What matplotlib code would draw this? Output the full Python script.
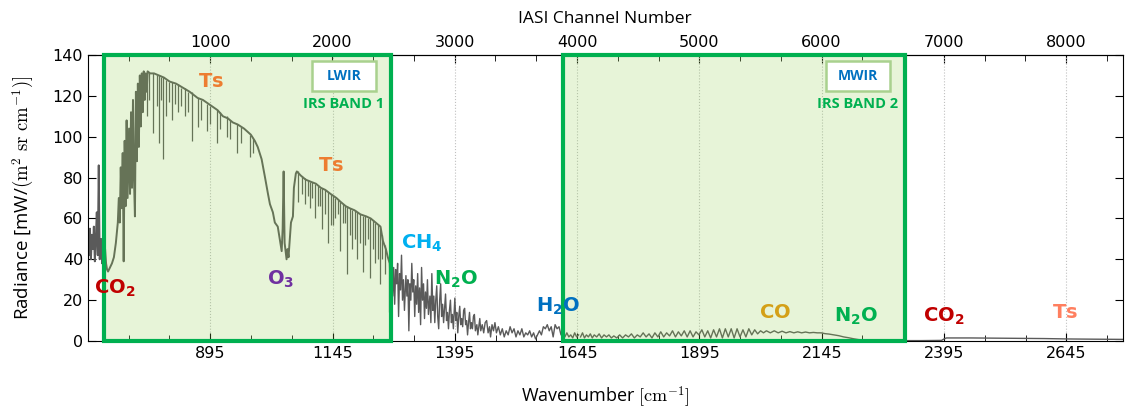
import numpy as np
import matplotlib
matplotlib.use("Agg")
import matplotlib.pyplot as plt
from matplotlib.patches import Rectangle
from matplotlib.ticker import FixedLocator, AutoMinorLocator

# spectrum (wavenumber [cm-1], radiance)
# long-wave part: noisy start, CO2 band, window continuum, O3 band
lw_wn = [645, 647, 649, 651, 653, 655, 657, 659, 661, 663, 665, 667, 669, 672, 674, 676, 678, 680,
         682, 684, 686, 690, 694, 698, 702, 704, 706, 708, 710, 712, 714, 716, 718, 720, 722, 724,
         726, 729, 731, 733, 735, 737, 739, 741, 743, 745, 747, 749, 751, 753, 755, 757, 759, 761,
         763, 765, 767, 772, 780, 790, 800, 812, 825, 839, 853, 869, 880, 898, 910, 921, 931, 941,
         951, 964, 978, 986, 992, 1000, 1007, 1013, 1017, 1023, 1027, 1033, 1037, 1041, 1043, 1045,
         1047, 1051, 1053, 1055, 1060, 1064, 1066, 1070, 1072, 1080, 1090, 1100, 1111, 1121, 1130,
         1141, 1153, 1162, 1172, 1180, 1190, 1202, 1214, 1223, 1233, 1243, 1248, 1254, 1258, 1262,
         1264, 1266]
lw_rad = [50, 42, 55, 40, 52, 45, 56, 39, 50, 63, 42, 86, 40, 50, 38, 47, 44, 45,
          38, 35, 34, 36, 38, 41, 48, 53, 58, 70, 58, 85, 65, 92, 39, 98, 66, 108,
          70, 104, 72, 112, 75, 118, 80, 61, 122, 88, 126, 95, 130, 105, 131, 112, 132, 118,
          131, 122, 132, 131, 131, 130, 129, 127, 126, 124, 122, 119, 118, 115, 113, 110, 109, 107,
          106, 104, 101, 98, 95, 89, 80, 72, 67, 63, 58, 56, 50, 44, 55, 83,
          48, 40, 45, 41, 58, 61, 75, 82, 83, 81, 79, 78, 77, 75, 74,
          72, 70, 68, 66, 65, 64, 62, 61, 60, 58, 56, 49, 45, 41, 38,
          25, 40]

# narrow absorption lines in the window: position, continuum top, line bottom
line_wn = [765, 770, 778, 786, 790, 795, 798, 804, 810, 817, 822, 829, 835, 843, 850, 857, 869,
           876, 888, 895, 908, 915, 929, 936, 949, 957, 976, 983,
           1074, 1082, 1088, 1094, 1098, 1104, 1109, 1116, 1119, 1123, 1130, 1135, 1141, 1145,
           1150, 1156, 1160, 1167, 1170, 1174, 1180, 1184, 1190, 1196, 1202, 1207, 1212, 1217,
           1221, 1227, 1231, 1237, 1241, 1246, 1252, 1260]
line_top = [132, 131, 131, 130, 130, 129, 129, 128, 127, 127, 126, 126, 124, 124, 122, 122, 119,
            118, 116, 115, 113, 112, 110, 108, 106, 105, 101, 99,
            83, 81, 80, 79, 78, 78, 77, 76, 75, 75, 74, 73, 72, 71,
            70, 69, 68, 67, 66, 66, 65, 64, 64, 63, 62, 61, 61, 60,
            60, 59, 58, 57, 56, 52, 47, 40]
line_bot = [110, 118, 102, 115, 97, 118, 89, 110, 117, 108, 116, 112, 115, 110, 112, 98, 105,
            108, 103, 106, 97, 104, 100, 99, 92, 97, 90, 92,
            68, 72, 67, 71, 65, 70, 60, 66, 66, 55, 62, 48, 57, 57,
            60, 62, 44, 58, 58, 33, 52, 45, 50, 40, 48, 34, 47, 50,
            31, 45, 38, 40, 28, 40, 33, 14]

# water vapour band
h2o_wn = [1266, 1268, 1270, 1272, 1274, 1276, 1278, 1280, 1282, 1284, 1286, 1288, 1290, 1292, 1295,
          1297, 1299, 1301, 1303, 1305, 1307, 1309, 1311, 1313, 1315, 1317, 1319, 1321, 1323, 1325,
          1327, 1329, 1331, 1333, 1335, 1337, 1339, 1341, 1344, 1346, 1348, 1350, 1352, 1354, 1356,
          1358, 1360, 1362, 1364, 1366, 1368, 1370, 1372, 1374, 1376, 1378, 1380, 1382, 1384, 1386,
          1388, 1390, 1392, 1395, 1397, 1399, 1401, 1403, 1405, 1407, 1409, 1411, 1413, 1415, 1417,
          1419, 1421, 1423, 1425, 1427, 1429, 1431, 1433, 1435, 1437, 1440, 1442, 1444, 1446, 1448,
          1451, 1454, 1457, 1460, 1463, 1466, 1468, 1471, 1474, 1477, 1480, 1484, 1488, 1492, 1496,
          1500, 1504, 1508, 1512, 1516, 1520, 1524, 1528, 1532, 1536, 1540, 1544, 1548, 1552, 1556,
          1560, 1564, 1568, 1572, 1576, 1580, 1584, 1588, 1592, 1596, 1600, 1604, 1608, 1612, 1616,
          1620, 1624, 1628, 1632, 1636, 1640, 1644, 1648]
h2o_rad = [40, 22, 36, 18, 35, 28, 38, 12, 33, 25, 42, 20, 30, 15, 32,
           22, 30, 5, 28, 20, 38, 24, 30, 12, 27, 18, 33, 14, 26, 8,
           36, 20, 28, 11, 24, 16, 30, 13, 22, 9, 33, 15, 22, 9, 20,
           27, 12, 6, 20, 28, 12, 18, 9, 16, 23, 10, 14, 6, 15, 20,
           9, 13, 6, 21, 10, 14, 4, 12, 17, 8, 11, 7, 15, 16, 8,
           10, 3, 9, 14, 6, 9, 6, 12, 13, 5, 8, 3, 7, 11, 5,
           8, 4, 9, 10, 4, 7, 2, 8, 5, 9, 4, 7, 3, 6, 2,
           5, 3, 7, 4, 6, 2, 5, 3, 6, 2, 4, 3, 5, 2, 4,
           1, 3, 5, 3, 7, 6, 8, 5, 7, 2, 8, 6, 7, 3, 5,
           2, 4, 2, 3, 1.5, 4, 2, 3]

# mid-wave and short-wave part
mw_wn = [1652, 1656, 1660, 1664, 1668, 1672, 1676, 1680, 1685, 1690, 1695, 1700, 1705, 1710, 1715,
         1720, 1726, 1732, 1738, 1744, 1750, 1756, 1762, 1768, 1774, 1780, 1786, 1792, 1798, 1804,
         1810, 1816, 1822, 1828, 1834, 1840, 1846, 1852, 1858, 1864, 1870, 1876, 1882, 1888, 1894,
         1900, 1906, 1912, 1918, 1924, 1930, 1936, 1942, 1948, 1954, 1960, 1966, 1972, 1978, 1984,
         1990, 1996, 2002, 2008, 2014, 2020, 2026, 2032, 2040, 2048, 2056, 2064, 2072, 2080, 2088,
         2096, 2104, 2112, 2120, 2128, 2136, 2144, 2152, 2160, 2170, 2180, 2190, 2200, 2210, 2220,
         2232, 2260, 2300, 2350, 2390, 2395, 2400, 2450, 2500, 2550, 2600, 2650, 2700, 2760]
mw_rad = [2, 4, 1.5, 3, 2, 3.5, 1.5, 3, 2, 3.5, 1.5, 3, 2, 3, 1.5,
          2.5, 1.5, 3, 1.5, 3, 2, 3.5, 1.5, 3, 2, 4, 2, 3.5, 1.5, 4,
          2, 4.5, 2, 4, 2.5, 5, 2, 4.5, 2.5, 5, 2, 5, 2, 4.5, 3,
          5.5, 2, 5, 1.5, 5.5, 2, 6, 1.5, 6, 2, 6, 1.5, 6, 2, 5.5,
          2, 6, 3, 5.5, 3.5, 5, 4, 5, 4, 5, 4, 4.8, 4, 4.6, 4,
          4.5, 4, 4.4, 4, 4.2, 4, 4, 3.6, 3.4, 3, 2.6, 2, 1.6, 1.1, 0.7,
          0.4, 0.3, 0.2, 0.2, 0.3, 1.0, 1.5, 1.5, 1.4, 1.3, 1.2, 1.0, 0.9, 0.8]

# IRS bands (cm-1)
band_names = ["LWIR", "MWIR"]
band_labels = ["IRS BAND 1", "IRS BAND 2"]
band_lo = [678, 1617]
band_hi = [1265, 2316]

# gas / surface labels: text, wavenumber, radiance, colour
gas_text = [r"$\mathbf{T}$s", r"$\mathbf{T}$s", r"$\mathbf{CO_2}$", r"$\mathbf{O_3}$",
            r"$\mathbf{CH_4}$", r"$\mathbf{N_2O}$", r"$\mathbf{H_2O}$", r"$\mathbf{CO}$",
            r"$\mathbf{N_2O}$", r"$\mathbf{CO_2}$", r"$\mathbf{T}$s"]
gas_x = [896, 1141, 700, 1039, 1327, 1397, 1607, 2050, 2216, 2395, 2643]
gas_y = [127, 86, 26, 30, 48, 30, 17, 14, 12, 12, 14]
gas_col = ["#ED7D31", "#ED7D31", "#C00000", "#7030A0", "#00B0F0", "#00B050", "#0070C0",
           "#D4A017", "#00B050", "#C00000", "#FF7F5F"]

wn_ticks = [895, 1145, 1395, 1645, 1895, 2145, 2395, 2645]
ch_ticks = [1000, 2000, 3000, 4000, 5000, 6000, 7000, 8000]


def wn2ch(w):
    return (np.asarray(w) - 645.0) / 0.25 + 1


def ch2wn(c):
    return (np.asarray(c) - 1) * 0.25 + 645.0


fig = plt.figure(figsize=(11.25, 4.13), dpi=100)
ax = fig.add_axes([0.0782, 0.1743, 0.9196, 0.6925])

spec_col = "#5a5a5a"
ax.plot(lw_wn, lw_rad, color=spec_col, lw=1.4, zorder=2)
ax.vlines(line_wn, line_bot, line_top, color=spec_col, lw=0.9, zorder=2)
ax.plot(h2o_wn, h2o_rad, color=spec_col, lw=1.0, zorder=2)
ax.plot(mw_wn, mw_rad, color=spec_col, lw=1.0, zorder=2)

green = "#00B050"
for name, lab, lo, hi in zip(band_names, band_labels, band_lo, band_hi):
    ax.add_patch(Rectangle((lo, 0), hi - lo, 140, facecolor="#92D050", alpha=0.22,
                           edgecolor="none", zorder=3))
    ax.add_patch(Rectangle((lo, 0), hi - lo, 140, facecolor="none", edgecolor=green,
                           lw=3, zorder=6, clip_on=False))
    bx = hi - 97
    ax.add_patch(Rectangle((bx - 65, 122.2), 131, 14.8, facecolor="white",
                           edgecolor="#A9D18E", lw=1.8, zorder=5))
    ax.text(bx, 129.6, name, color="#0070C0", fontsize=10, fontweight="bold",
            family="Open Sans", ha="center", va="center", zorder=7)
    ax.text(bx, 115.8, lab, color=green, fontsize=10.5, fontweight="bold",
            family="Open Sans", ha="center", va="center", zorder=7)

for t, x, y, c in zip(gas_text, gas_x, gas_y, gas_col):
    ax.text(x, y, t, color=c, fontsize=14, fontweight="bold", ha="center", va="center",
            math_fontfamily="dejavusans", zorder=8)

ax.set_xlim(645, 2760)
ax.set_ylim(0, 140)
ax.set_xticks(wn_ticks)
ax.xaxis.set_minor_locator(FixedLocator([645 + k * 250 / 3 for k in range(26)]))
ax.set_yticks(range(0, 141, 20))
ax.tick_params(axis="both", which="both", direction="in", labelsize=11.5, right=True)
ax.tick_params(which="major", length=6)
ax.tick_params(which="minor", length=4)
ax.grid(axis="x", which="major", linestyle=":", color="#c0c0c0", lw=0.8)

secax = ax.secondary_xaxis("top", functions=(wn2ch, ch2wn))
secax.set_xticks(ch_ticks)
secax.xaxis.set_minor_locator(AutoMinorLocator(3))
secax.tick_params(which="both", direction="in", labelsize=11.5)
secax.tick_params(which="major", length=6)
secax.tick_params(which="minor", length=4)
secax.set_xlabel("IASI Channel Number", family="Open Sans", fontsize=12.5, labelpad=9)

ax.set_xlabel(r"Wavenumber $[\mathrm{cm}^{-1}]$", family="Open Sans", fontsize=13,
              math_fontfamily="cm", labelpad=17)
ax.set_ylabel(r"Radiance [mW/$(\mathrm{m}^2\ \mathrm{sr}\ \mathrm{cm}^{-1})]$",
              family="Open Sans", fontsize=13.5, math_fontfamily="cm", labelpad=12)

fig.savefig("out.png", dpi=100)
